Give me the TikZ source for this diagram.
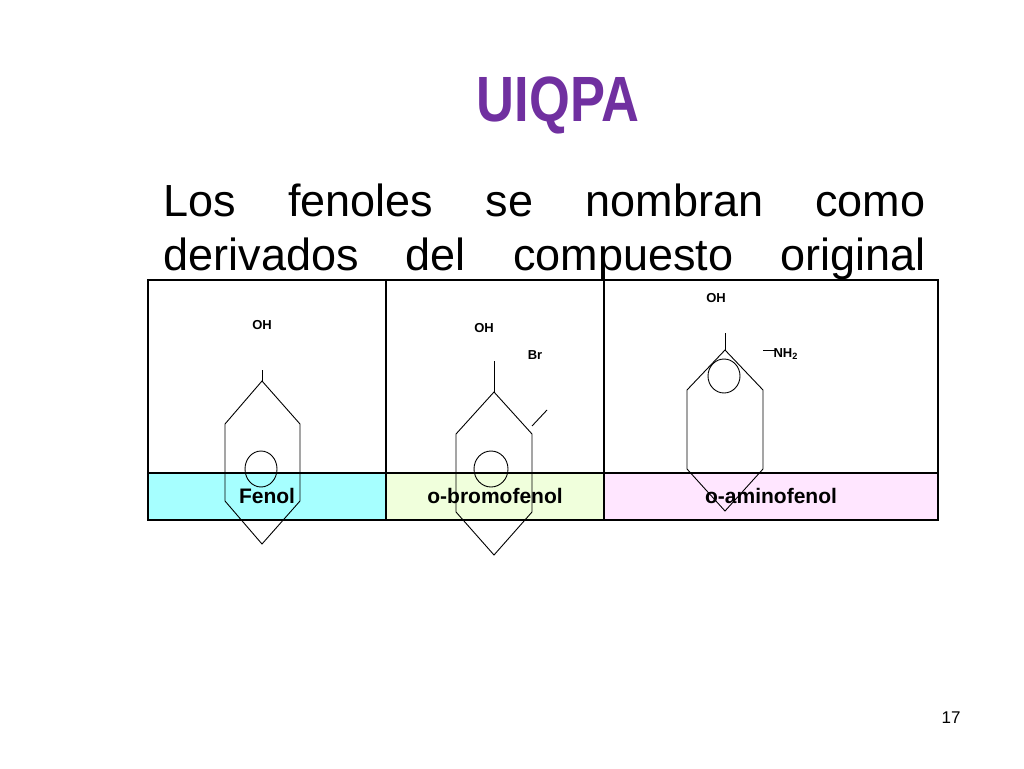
\documentclass[tikz,border=0pt]{standalone}
\usepackage{fontspec}
\setmainfont{Liberation Sans}
\begin{document}
\begin{tikzpicture}[x=1pt,y=-1pt,line width=1pt,
  lbl/.style={font=\bfseries\fontsize{13}{13}\selectfont,inner sep=0pt},
  cell/.style={draw=black,line width=1.2pt},
  bond/.style={line width=0.9pt}]
\useasboundingbox (0,0) rectangle (1024,768);
\definecolor{ttl}{HTML}{7030A0}
\node[text=ttl,font=\bfseries\fontsize{64}{64}\selectfont,xscale=0.82] (title) at (558,105) {UIQPA};
\node[anchor=base west,inner sep=0pt,font=\fontsize{45}{45}\selectfont] (l1) at (163,216)
  {\hbox to 762pt{Los\hfill fenoles\hfill se\hfill nombran\hfill como}};
\node[anchor=base west,inner sep=0pt,font=\fontsize{45}{45}\selectfont] (l2) at (163,270)
  {\hbox to 762pt{derivados\hfill del\hfill compuesto\hfill original}};
% table
\fill[fill={rgb,255:red,166;green,255;blue,255}] (148,473) rectangle (386,520);
\fill[fill={rgb,255:red,240;green,255;blue,220}] (386,473) rectangle (604,520);
\fill[fill={rgb,255:red,255;green,230;blue,255}] (604,473) rectangle (938,520);
\draw[cell] (148,280) rectangle (938,520);
\draw[cell] (148,473) -- (938,473);
\draw[cell] (386,280) -- (386,520);
\draw[cell] (604,280) -- (604,520);
\node[font=\bfseries\fontsize{21}{21}\selectfont] (n1) at (267,496) {Fenol};
\node[font=\bfseries\fontsize{21}{21}\selectfont] (n2) at (495,496) {o-bromofenol};
\node[font=\bfseries\fontsize{21}{21}\selectfont] (n3) at (771,496) {o-aminofenol};
% fenol
\draw[bond] (262,381) -- (300,424) -- (300,501) -- (262,544) -- (225,501) -- (225,424) -- cycle;
\draw[bond] (261,469) ellipse (16 and 18);
\node[lbl] (oh1) at (262,325) {OH};
\draw[bond] (262,381) -- (262,370);
% bromofenol
\draw[bond] (494,392) -- (532,434) -- (532,512) -- (494,555) -- (456,512) -- (456,434) -- cycle;
\draw[bond] (491,469) ellipse (17 and 18);
\node[lbl] (oh2) at (484,328) {OH};
\draw[bond] (494,392) -- (494,361);
\node[lbl] (br) at (535,355) {Br};
\draw[bond] (532,426) -- (547,410);
% aminofenol
\draw[bond] (725,350) -- (763,390) -- (763,469) -- (725,511) -- (687,469) -- (687,390) -- cycle;
\draw[bond] (724,376) ellipse (16 and 17);
\node[lbl] (oh3) at (716,298) {OH};
\draw[bond] (725,350) -- (725,333);
\node[lbl,anchor=west] (nh) at (773,354) {NH\textsubscript{2}};
\draw[bond] (763,350) -- (775,350);
\node[font=\fontsize{17}{17}\selectfont] (pg) at (951,718) {17};
\end{tikzpicture}
\end{document}
